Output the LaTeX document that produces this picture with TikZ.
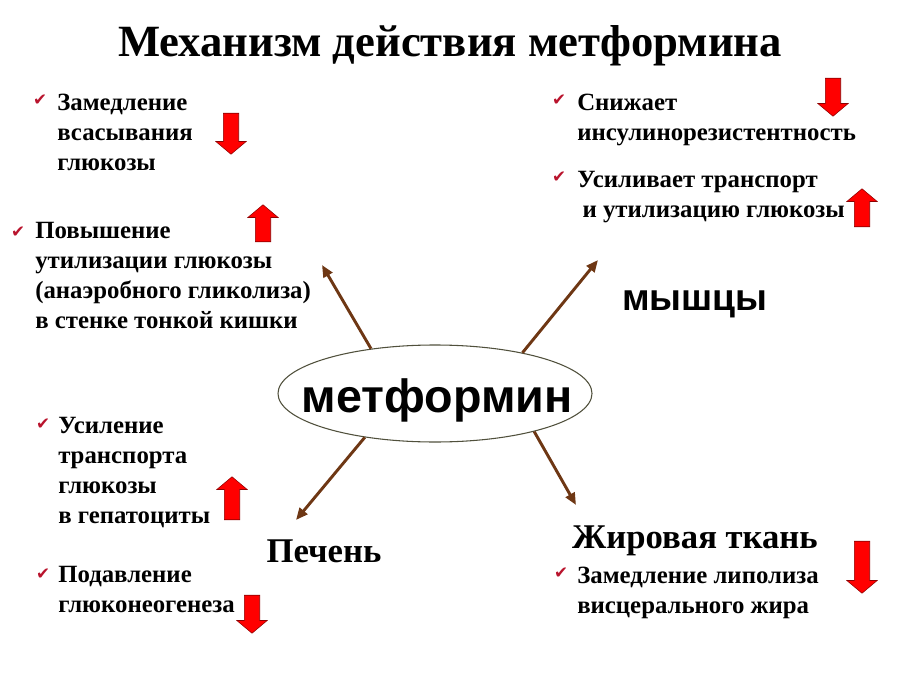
\documentclass[tikz,border=0pt]{standalone}
\usepackage{fontspec}
\setmainfont{Liberation Serif}
\newfontfamily\arialfont{Liberation Sans}
\newfontfamily\symfont{DejaVu Sans}
\usepackage{xcolor}
\usepackage{tikz}
\usetikzlibrary{arrows.meta,shapes.geometric,shapes.arrows}
\definecolor{linkbrown}{RGB}{110,55,20}
\definecolor{checkred}{RGB}{185,20,45}
\definecolor{ovalline}{RGB}{80,80,60}

\begin{document}
\begin{tikzpicture}[x=0.75pt,y=-0.75pt,font=\rmfamily\bfseries\fontsize{18.6}{22.5}\selectfont,>={Triangle[length=9pt,width=7.5pt]}]
    \tikzset{
      txt/.style={anchor=base west, align=left, inner sep=0pt},
      tick/.style={anchor=base, inner sep=0pt, text=checkred, font=\symfont\fontsize{12.5}{13}\selectfont},
      organ/.style={anchor=base, inner sep=0pt, font=\rmfamily\bfseries\fontsize{26}{30}\selectfont},
      link/.style={->, draw=linkbrown, line width=2.2pt},
      redarr/.style={shape=single arrow, draw=red!55!black, fill=red, inner xsep=0pt, inner ysep=5.6pt,
        text height=0pt, text depth=0pt, text width=0pt, minimum width=22.4pt,
        single arrow head extend=5.6pt, single arrow head indent=0pt, single arrow tip angle=100},
      downarr/.style={redarr, rotate=-90},
      uparr/.style={redarr, rotate=90}
    }
    \useasboundingbox (0,0) rectangle (900,674);

    \node[anchor=base, inner sep=0pt, font=\rmfamily\bfseries\fontsize{33.5}{40}\selectfont] (title) at (450,57)
      {Механизм действия метформина};

    \node[ellipse, draw=ovalline, line width=0.8pt, fill=white, minimum width=235.5pt, minimum height=72.75pt] (met) at (435,393.5) {};
    \node[anchor=base, inner sep=0pt, font=\arialfont\bfseries\fontsize{35}{38}\selectfont] (metlabel) at (437,412) {метформин};

    \node[tick] (c1) at (40,106) {✔};
    \node[txt] (absorb) at (57,170) {Замедление\\всасывания\\глюкозы};
    \node[downarr, minimum height=30.75pt] (a1) at (231,130.5) {};

    \node[tick] (c2) at (18,237) {✔};
    \node[txt] (intest) at (35,328) {Повышение\\утилизации глюкозы\\(анаэробного гликолиза)\\в стенке тонкой кишки};
    \node[uparr, minimum height=27.75pt] (a2) at (263,226.5) {};

    \node[tick] (c3) at (559,106) {✔};
    \node[txt] (insres) at (577,140) {Снижает\\инсулинорезистентность};
    \node[downarr, minimum height=28.5pt] (a3) at (833,94) {};

    \node[tick] (c4) at (559,182) {✔};
    \node[txt] (transp) at (577,217) {Усиливает транспорт\\\hspace*{4pt}и утилизацию глюкозы};
    \node[uparr, minimum height=28.5pt] (a4) at (862,211) {};

    \node[organ, font=\arialfont\bfseries\fontsize{28}{30}\selectfont] (muscle) at (695,310) {мышцы};

    \node[tick] (c5) at (43,429) {✔};
    \node[txt] (hepat) at (58,523) {Усиление\\транспорта\\глюкозы\\в гепатоциты};
    \node[uparr, minimum height=32.25pt] (a5) at (232,501.5) {};

    \node[organ] (liver) at (324,562) {Печень};

    \node[tick] (c6) at (43,579) {✔};
    \node[txt] (gluco) at (58,612) {Подавление\\глюконеогенеза};
    \node[downarr, minimum height=28.5pt] (a6) at (252,611) {};

    \node[organ] (fat) at (695,548) {Жировая ткань};

    \node[tick] (c7) at (561,578) {✔};
    \node[txt] (lipo) at (577,613) {Замедление липолиза\\висцерального жира};
    \node[downarr, minimum height=39pt] (a7) at (862,564) {};

    \coordinate (toGut) at (322,265);
    \coordinate (toMuscle) at (598,260);
    \coordinate (toLiver) at (296,520);
    \coordinate (toFat) at (576,505);
    \draw[link] (met.145) -- (toGut);
    \draw[link] (met.25) -- (toMuscle);
    \draw[link] (met.212) -- (toLiver);
    \draw[link] (met.339) -- (toFat);
  \end{tikzpicture}
\end{document}
